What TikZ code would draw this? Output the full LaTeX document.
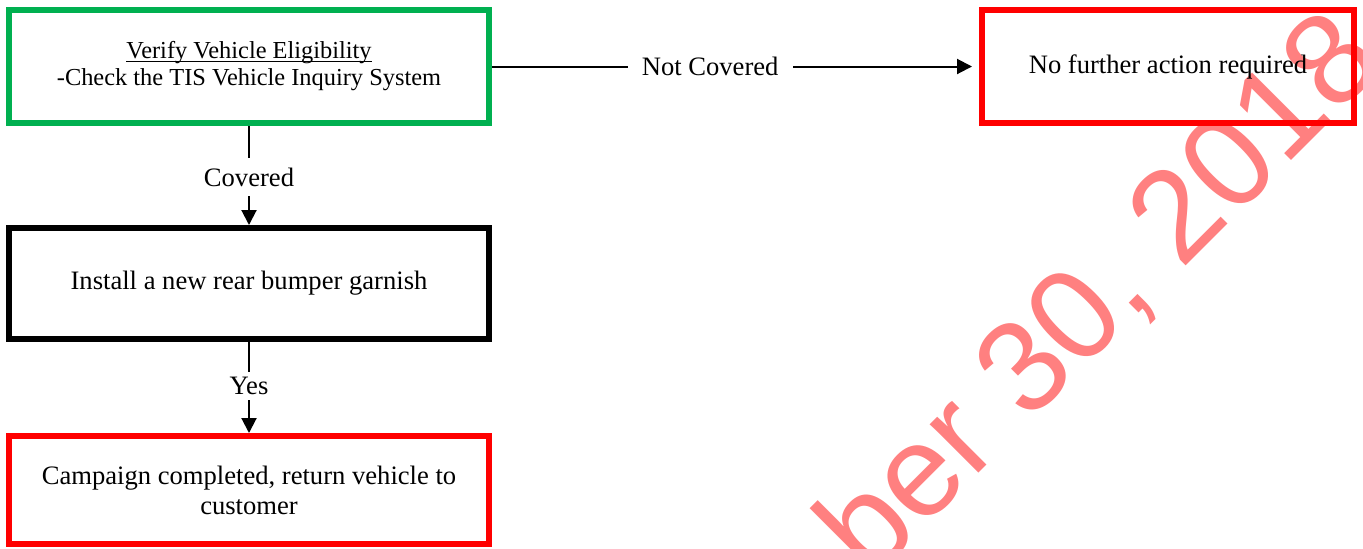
\documentclass[tikz,border=0pt]{standalone}
\usepackage{fontspec}
\setmainfont{Liberation Serif}
\newfontfamily\stampfont{Liberation Sans}
\usetikzlibrary{arrows.meta}
\newcommand\lowline[1]{\underline{\smash{#1}}\vphantom{#1}}
\begin{document}
\begin{tikzpicture}[x=0.5pt,y=-0.5pt]
            \tikzset{
                stepbox/.style={draw, line width=3pt, minimum width=240pt, inner sep=0pt, align=center, font=\fontsize{13.3}{15}\selectfont},
                flow/.style={line width=1pt, -{Triangle[length=7.5pt,width=7.5pt]}},
                lbl/.style={fill=white, inner xsep=0pt, font=\fontsize{13.3}{15}\selectfont},}
            \useasboundingbox (0,0) rectangle (1363,548);
            \clip (0,0) rectangle (1363,548);
            \node [rotate=45, anchor=base west, inner sep=0pt, text=red!50, font=\stampfont\fontsize{65}{65}\selectfont] (stamp) at (870,582) {ber 30, 2018};
            \node [stepbox, draw={rgb,255:red,0;green,176;blue,80}, minimum height=56.5pt, font=\fontsize{12.2}{13.5}\selectfont] (verify) at (249,66.5) {\lowline{Verify Vehicle Eligibility}\\-Check the TIS Vehicle Inquiry System};
            \node [stepbox, minimum height=55.5pt] (install) at (249,283.5) {Install a new rear bumper garnish};
            \node [stepbox, draw=red, minimum height=54pt] (done) at (249,490) {Campaign completed, return vehicle to\\customer};
            \node [stepbox, draw=red, minimum width=186pt, minimum height=56.5pt] (nofurther) at (1168,66.5) {No further action required};
            \draw [flow, shorten >=3.5pt] (verify) -- node [lbl, pos=0.448, inner xsep=7pt] {Not Covered} (nofurther);
            \draw [flow] (verify) -- node [lbl, pos=0.515, inner ysep=5pt] {Covered} (install);
            \draw [flow] (install) -- node [lbl, pos=0.48, inner ysep=2.6pt] {Yes} (done);
            % \draw [dotted] (0,0) grid [step=50] (1363,548);
        \end{tikzpicture}
\end{document}
